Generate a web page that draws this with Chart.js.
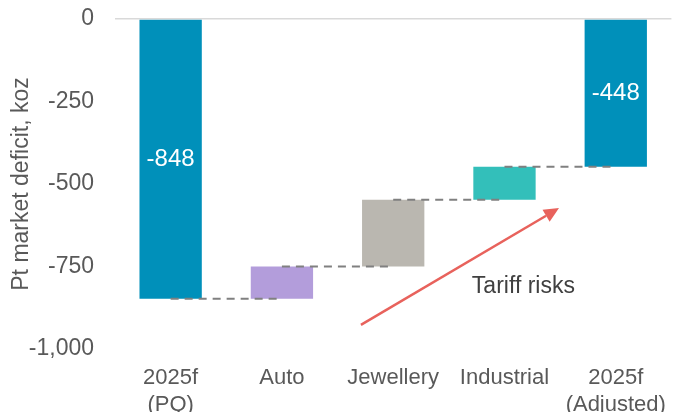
<!DOCTYPE html>
<html>
<head>
<meta charset="utf-8">
<script src="https://cdn.jsdelivr.net/npm/chart.js@4.4.1/dist/chart.umd.min.js"></script>
<style>
  html, body { margin: 0; padding: 0; background: #fff; }
  #wrap { width: 683px; height: 412px; position: relative; }
</style>
</head>
<body>
<div id="wrap"><canvas id="chart"></canvas></div>
<script>
// categories and values
const categories = [['2025f', '(PQ)'], 'Auto', 'Jewellery', 'Industrial', ['2025f', '(Adjusted)']];
const startTotal = -848;
const changes = [98, 202, 100];      // Auto, Jewellery, Industrial
const endTotal = -448;
const barColors = ['#0090BA', '#B39DDB', '#BAB7B0', '#33BFBA', '#0090BA'];
const yTicks = [0, -250, -500, -750, -1000];

// annotation: arrow from/to and its label, in data units (category index, koz)
const arrowFrom = [1.71, -927];
const arrowTo = [3.49, -573];
const arrowLabel = [3.17, -812];

// build floating bars
const ranges = [[0, startTotal]];
const levels = [startTotal];
let running = startTotal;
changes.forEach(c => {
    ranges.push([running, running + c]);
    running += c;
    levels.push(running);
});
ranges.push([0, endTotal]);

const FONT = "'Liberation Sans', Arial, sans-serif";

const overlay = {
    id: 'overlay',
    afterDatasetsDraw(chart) {
        const ctx = chart.ctx;
        const x = chart.scales.x;
        const y = chart.scales.y;

        // dashed connectors between bars
        ctx.save();
        ctx.strokeStyle = '#808080';
        ctx.lineWidth = 2;
        ctx.setLineDash([8, 6]);
        levels.forEach((lv, i) => {
            const py = y.getPixelForValue(lv);
            ctx.beginPath();
            ctx.moveTo(x.getPixelForValue(i), py);
            ctx.lineTo(x.getPixelForValue(i + 1), py);
            ctx.stroke();
        });
        ctx.restore();

        // totals inside first and last bar
        ctx.save();
        ctx.fillStyle = '#fff';
        ctx.font = '24px ' + FONT;
        ctx.textAlign = 'center';
        ctx.textBaseline = 'middle';
        [0, ranges.length - 1].forEach(i => {
            const r = ranges[i];
            const py = (y.getPixelForValue(r[0]) + y.getPixelForValue(r[1])) / 2;
            ctx.fillText(String(r[1]), x.getPixelForValue(i), py);
        });
        ctx.restore();

        // arrow
        const x1 = x.getPixelForValue(arrowFrom[0]), y1 = y.getPixelForValue(arrowFrom[1]);
        const x2 = x.getPixelForValue(arrowTo[0]), y2 = y.getPixelForValue(arrowTo[1]);
        const ang = Math.atan2(y2 - y1, x2 - x1);
        const head = 15, half = 7;
        ctx.save();
        ctx.strokeStyle = '#E8625C';
        ctx.fillStyle = '#E8625C';
        ctx.lineWidth = 2.5;
        ctx.beginPath();
        ctx.moveTo(x1, y1);
        ctx.lineTo(x2 - Math.cos(ang) * head, y2 - Math.sin(ang) * head);
        ctx.stroke();
        ctx.beginPath();
        ctx.moveTo(x2, y2);
        ctx.lineTo(x2 - Math.cos(ang) * head - Math.sin(ang) * half, y2 - Math.sin(ang) * head + Math.cos(ang) * half);
        ctx.lineTo(x2 - Math.cos(ang) * head + Math.sin(ang) * half, y2 - Math.sin(ang) * head - Math.cos(ang) * half);
        ctx.closePath();
        ctx.fill();

        ctx.fillStyle = '#404040';
        ctx.font = '23px ' + FONT;
        ctx.textAlign = 'center';
        ctx.textBaseline = 'middle';
        ctx.fillText('Tariff risks', x.getPixelForValue(arrowLabel[0]), y.getPixelForValue(arrowLabel[1]));
        ctx.restore();
    }
};

new Chart(document.getElementById('chart'), {
    type: 'bar',
    data: {
        labels: categories,
        datasets: [{
            data: ranges,
            backgroundColor: barColors,
            borderWidth: 0,
            categoryPercentage: 1,
            barPercentage: 0.56
        }]
    },
    options: {
        responsive: true,
        maintainAspectRatio: false,
        animation: false,
        layout: { padding: { top: 19, right: 11, left: 0, bottom: 0 } },
        plugins: {
            legend: { display: false },
            tooltip: { enabled: false }
        },
        scales: {
            x: {
                grid: { display: false, drawTicks: false },
                border: { display: false },
                ticks: {
                    color: '#595959',
                    font: { family: FONT, size: 22, lineHeight: 1.2 },
                    padding: 16,
                    maxRotation: 0,
                    autoSkip: false
                },
                afterFit(scale) { scale.height = 63; }
            },
            y: {
                min: -1000,
                max: 0,
                afterBuildTicks(scale) { scale.ticks = yTicks.map(v => ({ value: v })); },
                grid: {
                    drawTicks: false,
                    tickLength: 0,
                    lineWidth: 1.5,
                    color: ctx => ctx.tick && ctx.tick.value === 0 ? '#D9D9D9' : 'rgba(0,0,0,0)'
                },
                border: { display: false },
                ticks: {
                    color: '#595959',
                    font: { family: FONT, size: 23 },
                    padding: 21,
                    callback: v => v.toLocaleString('en-US')
                },
                title: {
                    display: true,
                    text: 'Pt market deficit, koz',
                    color: '#595959',
                    font: { family: FONT, size: 23 },
                    padding: { top: 8, bottom: 0 }
                },
                afterFit(scale) {
                    scale.width = 115;
                    scale.paddingTop = 0;
                    scale.paddingBottom = 0;
                }
            }
        }
    },
    plugins: [overlay]
});
</script>
</body>
</html>
